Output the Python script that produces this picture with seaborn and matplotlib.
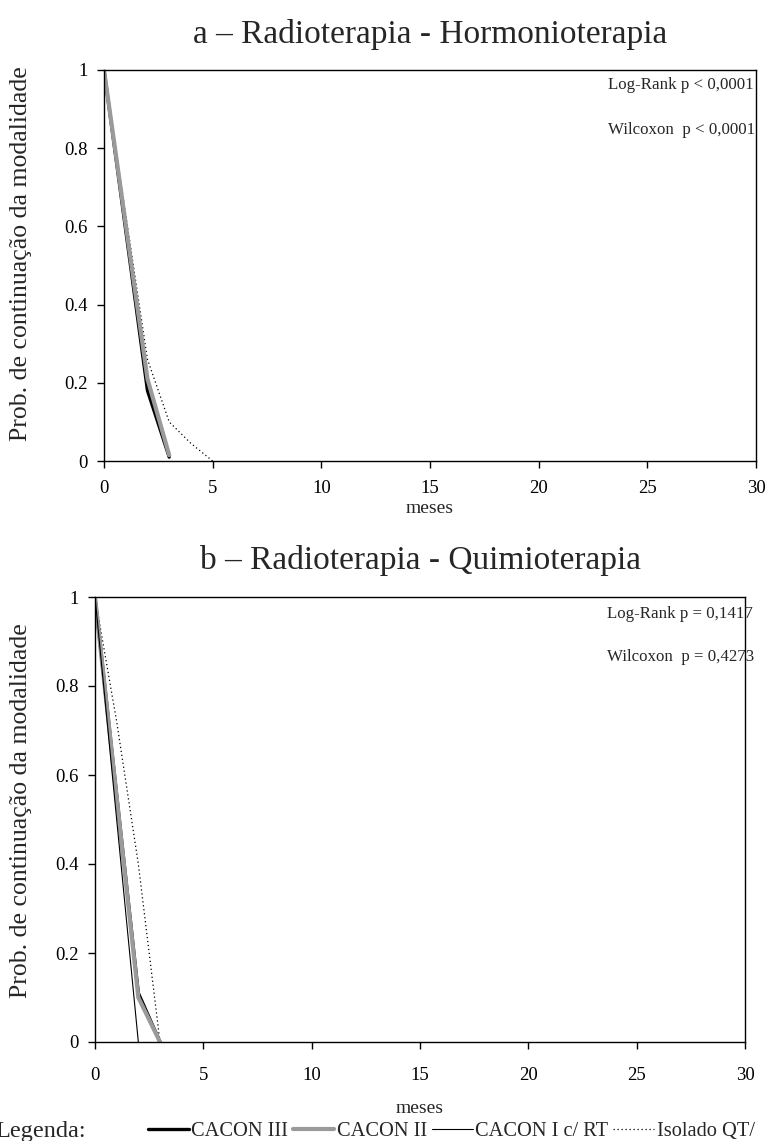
import matplotlib
matplotlib.use("Agg")
import matplotlib.pyplot as plt
from matplotlib.lines import Line2D
import seaborn as sns
import pandas as pd

sns.set_theme(style="white")
plt.rcParams["font.family"] = ["Liberation Serif", "DejaVu Serif"]

# Panel a – Radioterapia - Hormonioterapia
a_months_main = [0, 2, 3]
a_cacon3 = [1.0, 0.18, 0.01]
a_cacon2 = [1.0, 0.21, 0.015]
a_cacon1 = [1.0, 0.20, 0.02]
a_months_iso = [0, 2, 3, 4, 5]
a_isolado = [1.0, 0.26, 0.10, 0.045, 0.0]

# Panel b – Radioterapia - Quimioterapia
b_months_main = [0, 2, 3]
b_cacon3 = [1.0, 0.11, 0.0]
b_cacon2 = [1.0, 0.10, 0.0]
b_months_c1 = [0, 2]
b_cacon1 = [1.0, 0.0]
b_months_iso = [0, 1, 2, 3]
b_isolado = [1.0, 0.72, 0.40, 0.0]

titles = ["a \u2013 Radioterapia - Hormonioterapia", "b \u2013 Radioterapia - Quimioterapia"]
stats = [["Log-Rank p < 0,0001", "Wilcoxon  p < 0,0001"],
         ["Log-Rank p = 0,1417", "Wilcoxon  p = 0,4273"]]
series_names = ["CACON III", "CACON II", "CACON I c/ RT", "Isolado QT/"]
x_ticks = [0, 5, 10, 15, 20, 25, 30]
y_ticks = [0, 0.2, 0.4, 0.6, 0.8, 1]
y_tick_labels = ["0", "0.2", "0.4", "0.6", "0.8", "1"]

GRAY = "#9a9a9a"
styles = {
    "CACON III": dict(color="black", linewidth=2.4, linestyle="-"),
    "CACON II": dict(color=GRAY, linewidth=3.0, linestyle="-"),
    "CACON I c/ RT": dict(color="black", linewidth=0.8, linestyle="-"),
    "Isolado QT/": dict(color="black", linewidth=0.9, linestyle=(0, (1, 2.2))),
}

panels = [
    {"Isolado QT/": (a_months_iso, a_isolado),
     "CACON I c/ RT": (a_months_main, a_cacon1),
     "CACON III": (a_months_main, a_cacon3),
     "CACON II": (a_months_main, a_cacon2)},
    {"Isolado QT/": (b_months_iso, b_isolado),
     "CACON III": (b_months_main, b_cacon3),
     "CACON II": (b_months_main, b_cacon2),
     "CACON I c/ RT": (b_months_c1, b_cacon1)},
]

fig = plt.figure(figsize=(7.68, 11.41), dpi=100)
W, H = 768, 1141
# axes boxes in pixels: left, top, right, bottom
boxes = [(104, 70, 756, 461), (95, 597, 745, 1042)]
# per-panel layout: stats x, stats y1, stats y2, title y, xlabel y, ylabel x, xtick pad
layout = [
    dict(sx=0.773, sy1=0.962, sy2=0.847, ty=1.09, xly=-0.10, ylx=-0.110, yly=0.53, xpad=8.5),
    dict(sx=0.788, sy1=0.962, sy2=0.865, ty=1.083, xly=-0.13, ylx=-0.097, yly=0.52, xpad=13),
]

for i, (l, t, r, b) in enumerate(boxes):
    ax = fig.add_axes([l / W, 1 - b / H, (r - l) / W, (b - t) / H])
    for name, (xs, ys) in panels[i].items():
        df = pd.DataFrame({"meses": xs, "prob": ys})
        sns.lineplot(data=df, x="meses", y="prob", ax=ax, **styles[name])
    lay = layout[i]
    ax.set_xlim(0, 30)
    ax.set_ylim(0, 1)
    ax.set_xticks(x_ticks)
    ax.set_xticklabels([str(v) for v in x_ticks])
    ax.set_yticks(y_ticks)
    ax.set_yticklabels(y_tick_labels)
    ax.tick_params(axis="both", direction="out", length=5, width=1, colors="black",
                   labelsize=13.5, bottom=True, left=True)
    ax.tick_params(axis="x", pad=lay["xpad"])
    ax.tick_params(axis="y", pad=7)
    for s in ax.spines.values():
        s.set_color("black")
        s.set_linewidth(1.0)
    ax.set_xlabel("meses", fontsize=14)
    ax.xaxis.set_label_coords(0.5, lay["xly"])
    ax.set_ylabel("Prob. de continua\u00e7\u00e3o da modalidade", fontsize=18.5)
    ax.yaxis.set_label_coords(lay["ylx"], lay["yly"])
    ax.text(0.5, lay["ty"], titles[i], transform=ax.transAxes, fontsize=24,
            ha="center", va="center")
    ax.text(lay["sx"], lay["sy1"], stats[i][0], transform=ax.transAxes, fontsize=12.2,
            va="center", ha="left")
    ax.text(lay["sx"], lay["sy2"], stats[i][1], transform=ax.transAxes, fontsize=12.2,
            va="center", ha="left")

handles = [Line2D([0], [0], **styles[n]) for n in series_names]
fig.text(-0.006, 1 - 1131 / H, "Legenda:", fontsize=17.5, va="center", ha="left")
fig.legend(handles, series_names, loc="center left", bbox_to_anchor=(148 / W, 1 - 1131 / H),
           ncol=4, frameon=False, fontsize=14.7, handlelength=2.0, handletextpad=0.12,
           columnspacing=0.25, borderaxespad=0, borderpad=0)

fig.savefig("out.png", dpi=100)
